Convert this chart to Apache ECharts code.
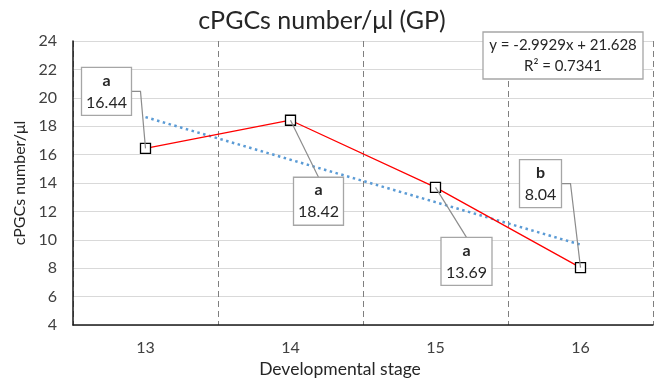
<!DOCTYPE html>
<html><head><meta charset="utf-8">
<script src="https://cdn.jsdelivr.net/npm/echarts@6/dist/echarts.min.js"></script>
<style>html,body{margin:0;padding:0;background:#fff}#c{width:660px;height:384px}</style>
</head><body><div id="c"></div>
<script>
const categories = ['13', '14', '15', '16'];
const values = [16.44, 18.42, 13.69, 8.04];
const letters = ['a', 'a', 'a', 'b'];
const trendValues = [18.64, 15.64, 12.65, 9.66];
const yTicks = { min: 4, max: 24, interval: 2 };
const equationLines = ['y = -2.9929x + 21.628', 'R\u00B2 = 0.7341'];

// callout layout (pixels relative to point): box centre, size, leader style
const callouts = [
  { dx: -39, dy: -57, w: 50, h: 48, elbow: 'right' },
  { dx: 28, dy: 81, w: 50, h: 48, elbow: 'top' },
  { dx: 31, dy: 74, w: 51, h: 48, elbow: 'top' },
  { dx: -40, dy: -84, w: 42, h: 48, elbow: 'right' }
];

const FONT = 'Lato';
const chart = echarts.init(document.getElementById('c'), null, { renderer: 'canvas' });

const option = {
  animation: false,
  textStyle: { fontFamily: FONT },
  title: {
    text: 'cPGCs number/\u03BCl (GP)', left: 317, top: 3, textAlign: 'center',
    textStyle: { fontFamily: FONT, fontSize: 25, fontWeight: 'normal', color: '#262626' }
  },
  grid: { left: 73, right: 7, top: 41, bottom: 59 },
  xAxis: {
    type: 'category', data: categories, boundaryGap: true,
    axisLine: { lineStyle: { color: '#1a1a1a', width: 1.5 } },
    axisTick: { show: false },
    axisLabel: { fontSize: 16, color: '#404040', margin: 15, fontFamily: FONT },
    splitLine: { show: true, lineStyle: { color: '#7f7f7f', type: [6, 4], width: 1 } }
  },
  yAxis: {
    type: 'value', min: yTicks.min, max: yTicks.max, interval: yTicks.interval,
    axisLine: { show: true, lineStyle: { color: '#1a1a1a', width: 1.5 } },
    axisTick: { show: false },
    axisLabel: { fontSize: 16, color: '#404040', margin: 16, fontFamily: FONT },
    splitLine: { lineStyle: { color: '#d9d9d9', width: 1 } },
    name: 'cPGCs number/\u03BCl', nameLocation: 'middle', nameGap: 41,
    nameTextStyle: { fontSize: 16, color: '#262626', fontFamily: FONT }
  },
  graphic: [
    {
      type: 'text', x: 340, y: 360, z: 100,
      style: { text: 'Developmental stage', font: '17.5px "' + FONT + '"', fill: '#262626', align: 'center' }
    },
    {
      type: 'rect', x: 483, y: 32, z: 200,
      shape: { x: 0, y: 0, width: 160, height: 47 },
      style: { fill: '#ffffff', stroke: '#a6a6a6', lineWidth: 1.3 }
    },
    {
      type: 'text', x: 563, y: 35, z: 201,
      style: { text: equationLines.join('\n'), font: '15px "' + FONT + '"', fill: '#262626', align: 'center', lineHeight: 21 }
    }
  ],
  series: [
    {
      type: 'line', data: trendValues, symbol: 'none', z: 2,
      lineStyle: { color: '#5b9bd5', width: 2.5, type: [2.5, 3.5] }
    },
    {
      type: 'line', data: values, z: 3,
      symbol: 'rect', symbolSize: 10,
      lineStyle: { color: '#ff0000', width: 1.3 },
      itemStyle: { color: '#ffffff', borderColor: '#000000', borderWidth: 1.3 }
    },
    {
      type: 'custom', z: 5,
      data: values.map((v, i) => [i, v]),
      renderItem: function (params, api) {
        const i = params.dataIndex;
        const c = callouts[i];
        const p = api.coord([api.value(0), api.value(1)]);
        const cx = p[0] + c.dx, cy = p[1] + c.dy;
        let pts;
        if (c.elbow === 'right') {
          const rx = cx + c.w / 2;
          pts = [[rx, cy], [rx + 9, cy], [p[0], p[1]]];
        } else {
          pts = [[p[0], p[1]], [cx, cy - c.h / 2]];
        }
        return {
          type: 'group',
          children: [
            { type: 'polyline', shape: { points: pts }, style: { stroke: '#8c8c8c', lineWidth: 1.2, fill: null } },
            { type: 'rect', shape: { x: cx - c.w / 2, y: cy - c.h / 2, width: c.w, height: c.h }, style: { fill: '#fff', stroke: '#a6a6a6', lineWidth: 1.3 } },
            { type: 'text', x: cx, y: cy - 11, style: { text: letters[i], font: 'bold 16px "' + FONT + '"', fill: '#262626', align: 'center', verticalAlign: 'middle' } },
            { type: 'text', x: cx, y: cy + 11, style: { text: values[i].toFixed(2), font: '16px "' + FONT + '"', fill: '#262626', align: 'center', verticalAlign: 'middle' } }
          ]
        };
      }
    }
  ]
};
chart.setOption(option);
</script>
</body></html>
